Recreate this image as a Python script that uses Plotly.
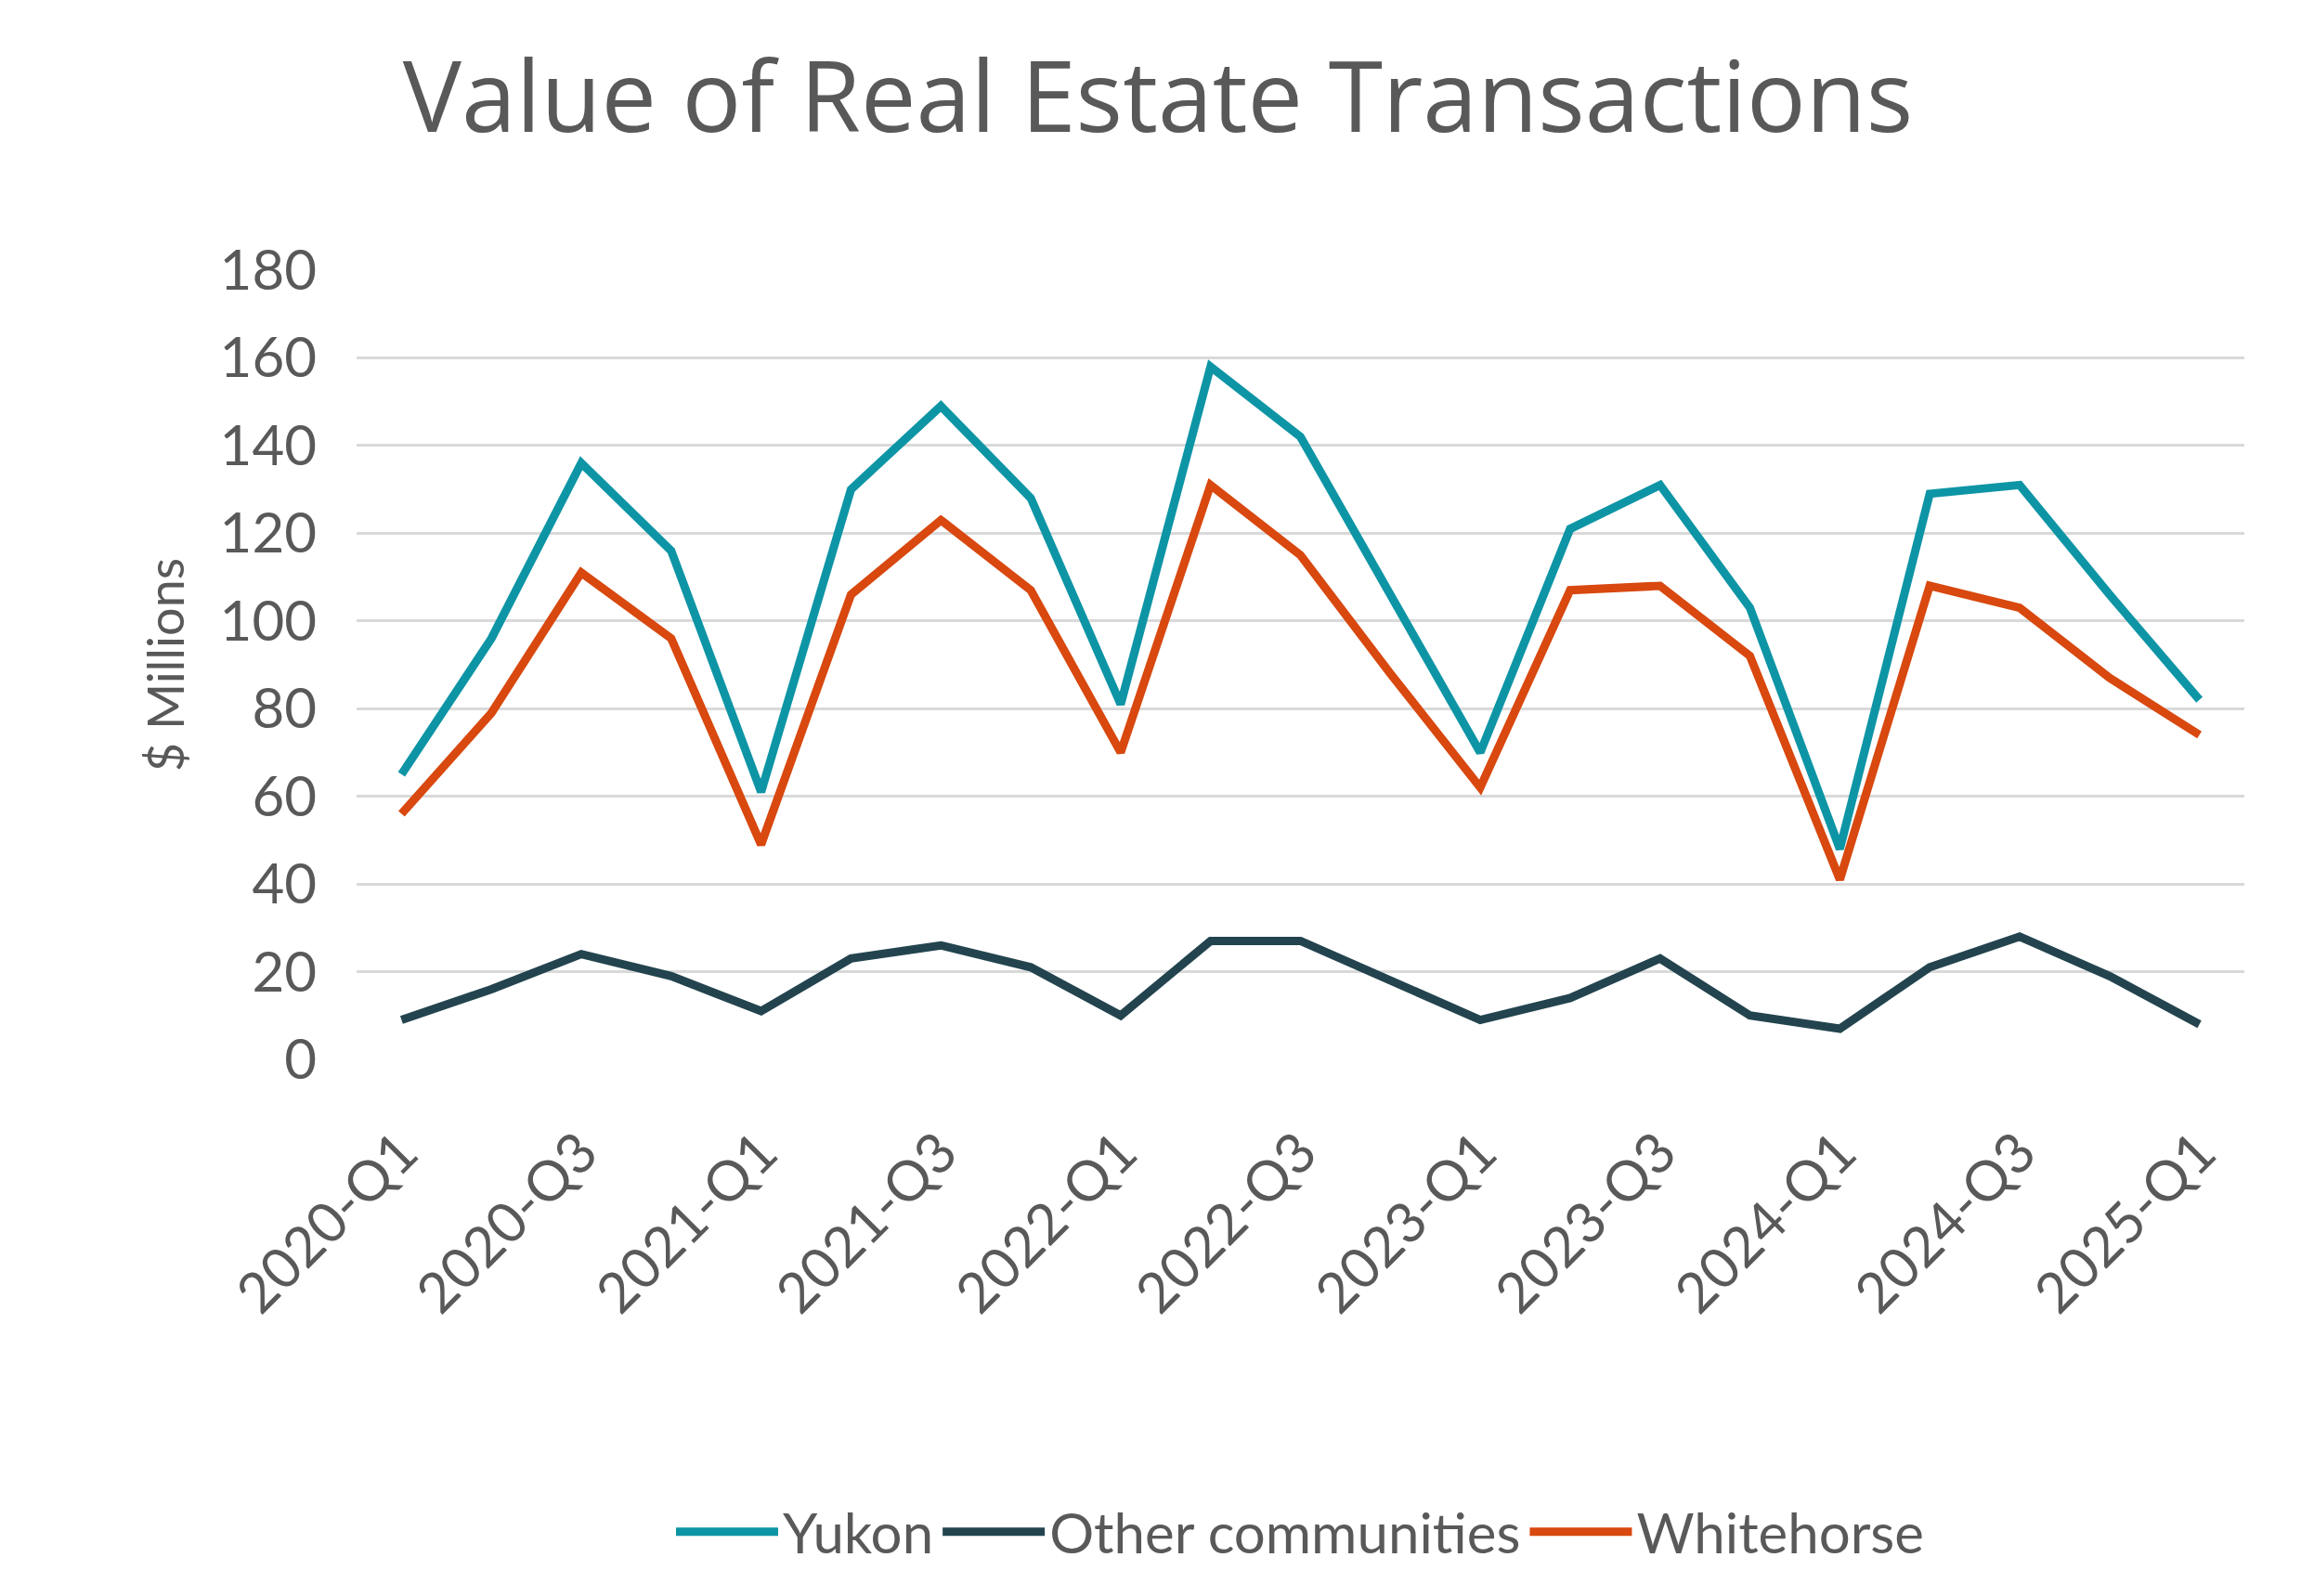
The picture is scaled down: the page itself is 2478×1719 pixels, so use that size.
import plotly.graph_objects as go

quarters = [f"{y}-Q{q}" for y in range(2020, 2025) for q in range(1, 5)] + ["2025-Q1"]
yukon = [65, 96, 136, 116, 61, 130, 149, 128, 81, 158, 142, 106, 70, 121, 131, 103, 48, 129, 131, 106, 82]
other = [9, 16, 24, 19, 11, 23, 26, 21, 10, 27, 27, 18, 9, 14, 23, 10, 7, 21, 28, 19, 8]
whitehorse = [56, 79, 111, 96, 49, 106, 123, 107, 70, 131, 115, 88, 62, 107, 108, 92, 41, 108, 103, 87, 74]
tick_labels = quarters[::2]

fig = go.Figure()
fig.add_trace(go.Scatter(x=quarters, y=yukon, name="Yukon", mode="lines", line=dict(color="#0E95A5", width=9)))
fig.add_trace(go.Scatter(x=quarters, y=other, name="Other communities", mode="lines", line=dict(color="#23444F", width=9)))
fig.add_trace(go.Scatter(x=quarters, y=whitehorse, name="Whitehorse", mode="lines", line=dict(color="#D8480F", width=9)))

fig.update_layout(
    width=2478, height=1719,
    paper_bgcolor="white", plot_bgcolor="white",
    font=dict(family="Lato", color="#595959", size=60),
    title=dict(text="Value of Real Estate Transactions", x=0.5, xanchor="center", y=0.965, yanchor="top",
               font=dict(size=106, family="Open Sans", color="#595959")),
    margin=dict(l=376, r=69, t=283, b=586, autoexpand=False),
    showlegend=True,
    legend=dict(orientation="h", x=0.5, xanchor="center", yref="container", y=0.045, yanchor="middle",
                font=dict(size=60), itemwidth=110),
    xaxis=dict(tickmode="array", tickvals=tick_labels, ticktext=tick_labels, tickangle=-45,
               showgrid=False, showline=False, ticks="outside", ticklen=40, tickcolor="white",
               range=[-0.5, 20.5]),
    yaxis=dict(range=[0, 180], dtick=20, gridcolor="#D9D9D9", gridwidth=3, zeroline=False,
               ticks="outside", ticklen=30, tickcolor="white",
               title=dict(text="$ Millions", font=dict(size=54), standoff=20)),
)
fig.write_html("out.html")
